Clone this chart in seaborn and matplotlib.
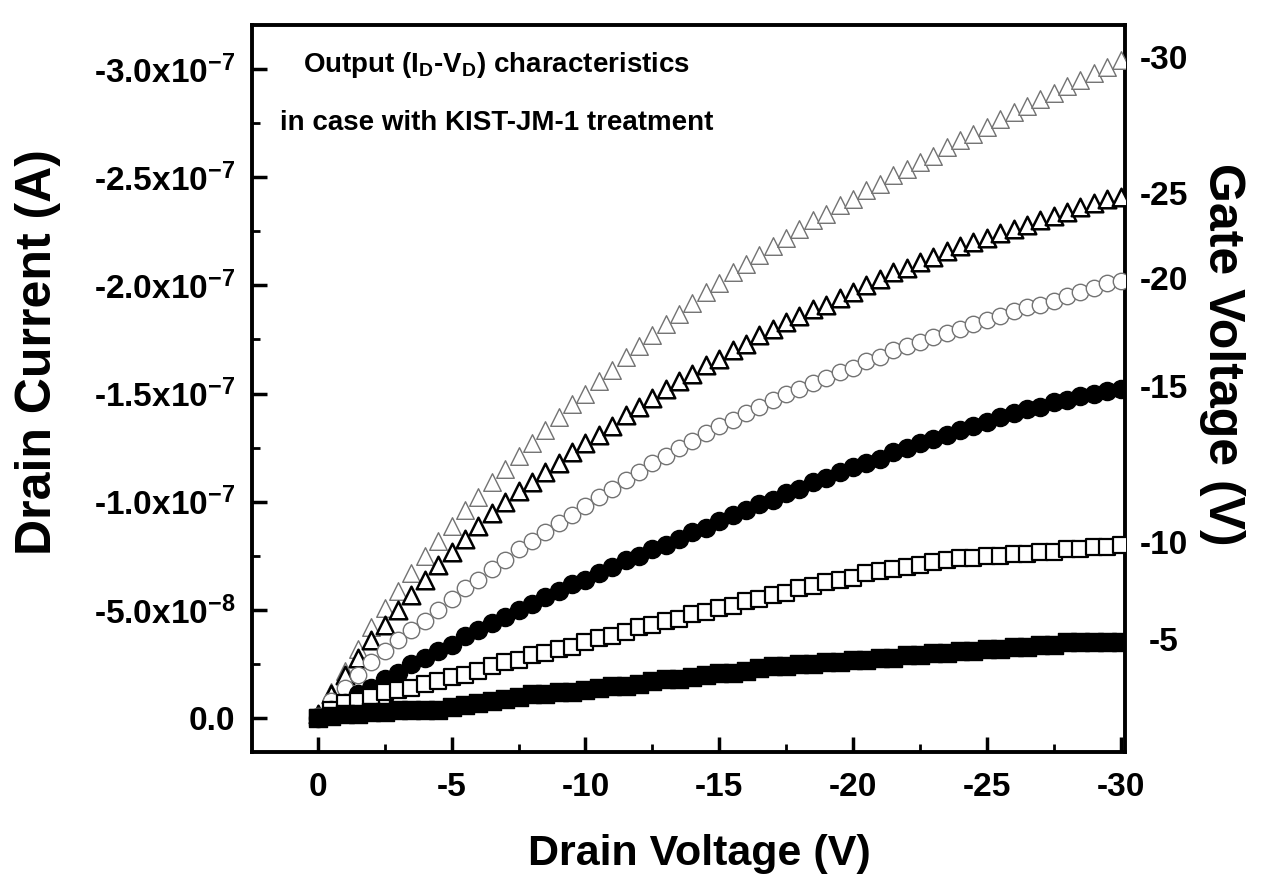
import matplotlib
matplotlib.use("Agg")
import matplotlib.pyplot as plt
import pandas as pd
import seaborn as sns
from matplotlib.ticker import FixedLocator, MultipleLocator

# drain voltage sweep (V)
drain_v = [0, -0.5, -1, -1.5, -2, -2.5, -3, -3.5, -4, -4.5, -5, -5.5, -6, -6.5, -7, -7.5,
           -8, -8.5, -9, -9.5, -10, -10.5, -11, -11.5, -12, -12.5, -13, -13.5, -14, -14.5,
           -15, -15.5, -16, -16.5, -17, -17.5, -18, -18.5, -19, -19.5, -20, -20.5, -21, -21.5,
           -22, -22.5, -23, -23.5, -24, -24.5, -25, -25.5, -26, -26.5, -27, -27.5, -28, -28.5,
           -29, -29.5, -30]

# drain current, in units of 1e-7 A (sign kept negative)
id_vg30 = [0.02, 0.12, 0.22, 0.32, 0.42, 0.51, 0.59, 0.67, 0.75, 0.82, 0.89, 0.96, 1.02, 1.09, 1.15, 1.21,
           1.27, 1.33, 1.39, 1.45, 1.50, 1.56, 1.61, 1.67, 1.72, 1.77, 1.82, 1.87, 1.92, 1.97,
           2.01, 2.06, 2.10, 2.14, 2.18, 2.22, 2.26, 2.30, 2.33, 2.37, 2.40, 2.44, 2.47, 2.51,
           2.54, 2.57, 2.60, 2.64, 2.67, 2.70, 2.73, 2.77, 2.80, 2.83, 2.86, 2.89, 2.92, 2.95,
           2.98, 3.01, 3.04]
id_vg25 = [0.02, 0.11, 0.20, 0.28, 0.36, 0.43, 0.50, 0.57, 0.64, 0.71, 0.77, 0.83, 0.89, 0.95, 1.00, 1.05,
           1.09, 1.14, 1.18, 1.23, 1.27, 1.31, 1.35, 1.40, 1.44, 1.48, 1.52, 1.56, 1.59, 1.63,
           1.66, 1.70, 1.73, 1.77, 1.80, 1.83, 1.86, 1.89, 1.91, 1.94, 1.97, 2.00, 2.03, 2.06,
           2.08, 2.11, 2.13, 2.16, 2.18, 2.20, 2.22, 2.24, 2.26, 2.28, 2.30, 2.32, 2.34, 2.36,
           2.38, 2.40, 2.41]
id_vg20 = [0.01, 0.08, 0.14, 0.20, 0.26, 0.31, 0.36, 0.41, 0.45, 0.50, 0.55, 0.60, 0.64, 0.69, 0.73, 0.78,
           0.82, 0.86, 0.90, 0.94, 0.98, 1.02, 1.06, 1.10, 1.14, 1.18, 1.21, 1.25, 1.28, 1.32,
           1.35, 1.38, 1.41, 1.44, 1.47, 1.50, 1.52, 1.55, 1.57, 1.60, 1.62, 1.65, 1.67, 1.70,
           1.72, 1.74, 1.76, 1.78, 1.80, 1.82, 1.84, 1.86, 1.88, 1.90, 1.91, 1.93, 1.95, 1.97,
           1.99, 2.01, 2.02]
id_vg15 = [0.00, 0.04, 0.07, 0.11, 0.14, 0.18, 0.21, 0.25, 0.28, 0.31, 0.34, 0.38, 0.41, 0.44, 0.47, 0.50,
           0.53, 0.56, 0.59, 0.62, 0.64, 0.67, 0.70, 0.73, 0.75, 0.78, 0.80, 0.83, 0.86, 0.88,
           0.91, 0.94, 0.96, 0.99, 1.01, 1.04, 1.06, 1.09, 1.11, 1.14, 1.16, 1.18, 1.20, 1.23,
           1.25, 1.27, 1.29, 1.31, 1.33, 1.35, 1.37, 1.39, 1.41, 1.43, 1.44, 1.46, 1.47, 1.49,
           1.50, 1.51, 1.52]
id_vg10 = [0.00, 0.04, 0.07, 0.08, 0.10, 0.12, 0.13, 0.14, 0.16, 0.17, 0.19, 0.20, 0.22, 0.24, 0.26, 0.27,
           0.29, 0.30, 0.32, 0.33, 0.35, 0.37, 0.38, 0.40, 0.42, 0.43, 0.45, 0.46, 0.48, 0.49,
           0.51, 0.52, 0.54, 0.55, 0.57, 0.58, 0.60, 0.61, 0.63, 0.64, 0.65, 0.67, 0.68, 0.69,
           0.70, 0.71, 0.72, 0.73, 0.74, 0.74, 0.75, 0.75, 0.76, 0.76, 0.77, 0.77, 0.78, 0.78,
           0.79, 0.79, 0.80]
id_vg5 = [0.00, 0.01, 0.02, 0.02, 0.03, 0.03, 0.04, 0.04, 0.04, 0.04, 0.05, 0.06, 0.07, 0.08, 0.09, 0.10,
          0.11, 0.11, 0.12, 0.12, 0.13, 0.14, 0.15, 0.15, 0.16, 0.17, 0.18, 0.18, 0.19, 0.20,
          0.21, 0.21, 0.22, 0.23, 0.24, 0.24, 0.25, 0.25, 0.26, 0.26, 0.27, 0.27, 0.28, 0.28,
          0.29, 0.29, 0.30, 0.30, 0.31, 0.31, 0.32, 0.32, 0.33, 0.33, 0.34, 0.34, 0.35, 0.35,
          0.35, 0.35, 0.35]

gate_labels = ['-30', '-25', '-20', '-15', '-10', '-5']
currents = [id_vg30, id_vg25, id_vg20, id_vg15, id_vg10, id_vg5]

y_ticks = [0.0, -0.5e-7, -1.0e-7, -1.5e-7, -2.0e-7, -2.5e-7, -3.0e-7]
y_ticklabels = ['0.0', r'-5.0x10$^{\mathbf{-8}}$', r'-1.0x10$^{\mathbf{-7}}$', r'-1.5x10$^{\mathbf{-7}}$',
                r'-2.0x10$^{\mathbf{-7}}$', r'-2.5x10$^{\mathbf{-7}}$', r'-3.0x10$^{\mathbf{-7}}$']
x_ticks = [0, -5, -10, -15, -20, -25, -30]

rows = []
for vg, cur in zip(gate_labels, currents):
    for v, i in zip(drain_v, cur):
        rows.append({'vd': v, 'id': -i * 1e-7, 'vg': vg})
df = pd.DataFrame(rows)

sns.set_style('ticks')
plt.rcParams['font.family'] = ['Liberation Sans', 'DejaVu Sans']
plt.rcParams['font.weight'] = 'bold'
plt.rcParams['text.color'] = 'black'
plt.rcParams['axes.labelcolor'] = 'black'
plt.rcParams['xtick.color'] = 'black'
plt.rcParams['ytick.color'] = 'black'
plt.rcParams['mathtext.fontset'] = 'custom'
plt.rcParams['mathtext.rm'] = 'Liberation Sans:bold'
plt.rcParams['mathtext.bf'] = 'Liberation Sans:bold'
plt.rcParams['mathtext.it'] = 'Liberation Sans:bold'

# marker style per gate voltage: (marker, face, edge, lw, size)
styles = {
    '-30': ('^', 'white', '0.45', 1.0, 160),
    '-25': ('^', 'white', 'black', 1.8, 160),
    '-20': ('o', 'white', '0.45', 1.0, 140),
    '-15': ('o', 'black', 'black', 1.0, 170),
    '-10': ('s', 'white', 'black', 1.6, 130),
    '-5': ('s', 'black', 'black', 1.0, 160),
}

fig = plt.figure(figsize=(12.65, 8.86), dpi=100)
ax = fig.add_axes([0.199, 0.151, 0.690, 0.821])

for vg in gate_labels:
    m, fc, ec, lw, s = styles[vg]
    sub = df[df.vg == vg]
    sns.scatterplot(data=sub, x='vd', y='id', marker=m, s=s, color=fc,
                    edgecolor=ec, linewidth=lw, ax=ax, legend=False, zorder=3)

ax.set_xlim(2.47, -30.15)
ax.set_ylim(0.157e-7, -3.204e-7)

ax.xaxis.set_major_locator(FixedLocator(x_ticks))
ax.set_xticklabels([str(t) for t in x_ticks])
ax.xaxis.set_minor_locator(MultipleLocator(2.5))
ax.yaxis.set_major_locator(FixedLocator(y_ticks))
ax.set_yticklabels(y_ticklabels)
ax.yaxis.set_minor_locator(MultipleLocator(0.25e-7))

ax.tick_params(axis='both', which='major', direction='in', length=11, width=2.5,
               labelsize=24, top=False, right=False)
ax.tick_params(axis='both', which='minor', direction='in', length=6, width=2,
               top=False, right=False)
ax.tick_params(axis='x', which='major', pad=14)
ax.tick_params(axis='y', which='major', pad=12)
for lab in ax.get_xticklabels() + ax.get_yticklabels():
    lab.set_fontweight('bold')

for sp in ax.spines.values():
    sp.set_linewidth(2.8)
    sp.set_color('black')

ax.set_xlabel('')
ax.set_ylabel('')

# curve labels on the right (gate voltage)
for vg, cur in zip(gate_labels, currents):
    ax.text(1.045, -cur[-1] * 1e-7, vg, transform=ax.get_yaxis_transform(),
            ha='center', va='center', fontsize=24, fontweight='bold')

ax.text(0.281, 0.945, r'Output (I$_{\mathbf{D}}$-V$_{\mathbf{D}}$) characteristics',
        transform=ax.transAxes, ha='center', va='center', fontsize=20, fontweight='bold')
ax.text(0.281, 0.865, 'in case with KIST-JM-1 treatment',
        transform=ax.transAxes, ha='center', va='center', fontsize=20, fontweight='bold')

fig.text(0.553, 0.036, 'Drain Voltage (V)', ha='center', va='center',
         fontsize=31, fontweight='bold')
fig.text(0.030, 0.603, 'Drain Current (A)', ha='center', va='center', rotation=90,
         fontsize=36, fontweight='bold')
fig.text(0.966, 0.60, 'Gate Voltage (V)', ha='center', va='center', rotation=270,
         fontsize=36, fontweight='bold')

fig.savefig('out.png', dpi=100, facecolor='white')
